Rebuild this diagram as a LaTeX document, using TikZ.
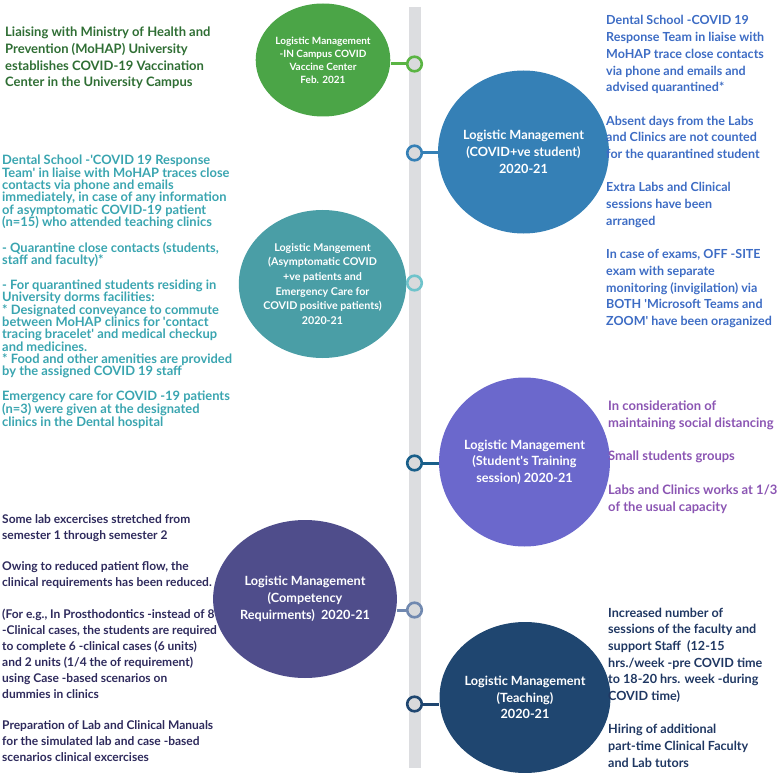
\documentclass[tikz,border=0pt]{standalone}
\usepackage{fontspec}
\setmainfont{Lato}
\usetikzlibrary{positioning,shapes.geometric}
\definecolor{bargray}{HTML}{DCDDE0}
\definecolor{ringgray}{HTML}{D9DADC}
\definecolor{vgreen}{HTML}{4BA547}
\definecolor{vgreenring}{HTML}{5AB443}
\definecolor{vgreentext}{HTML}{2F6E34}
\definecolor{cblue}{HTML}{3580B6}
\definecolor{cbluetext}{HTML}{3D6CC4}
\definecolor{ateal}{HTML}{4A9EA6}
\definecolor{atealring}{HTML}{6FC3CB}
\definecolor{atealtext}{HTML}{3AA5B0}
\definecolor{tpurple}{HTML}{6B68CC}
\definecolor{tpurplering}{HTML}{195F8A}
\definecolor{tpurpletext}{HTML}{8B55B3}
\definecolor{cslate}{HTML}{4F4D8B}
\definecolor{cslatering}{HTML}{7189B0}
\definecolor{cslatetext}{HTML}{2E2A5C}
\definecolor{hnavy}{HTML}{1F4670}
\definecolor{hnavytext}{HTML}{1F3762}
\newcommand{\sq}{\textquotesingle}
\newcommand{\gap}{\\[\baselineskip]}

\begin{document}
\begin{tikzpicture}[%
        x=1pt,y=-1pt,
        bubble/.style={%
          ellipse,
          inner sep=0pt,
          text=white,
          align=center,
          font=\bfseries\fontsize{12.7}{16.7}\selectfont
        },
        ring/.style={circle,draw,line width=2.6pt,fill=ringgray,minimum size=14.6pt,inner sep=0pt},
        link/.style={line width=3pt},
        note/.style={anchor=north west,inner sep=0pt,align=left,font=\bfseries\fontsize{13}{16.7}\selectfont}
      ]
      \useasboundingbox (0,0) rectangle (777,773);
      % timeline bar
      \draw[line width=12pt,bargray] (414.5,7) -- (414.5,768);
      % milestone bubbles
      \node[bubble,fill=vgreen,minimum width=110pt,minimum height=113pt,font=\bfseries\fontsize{10}{13}\selectfont] (gc) at (323,60)
        {Logistic Management\\-IN Campus COVID\\Vaccine Center\\Feb. 2021};
      \node[bubble,fill=cblue,minimum width=143pt,minimum height=163pt] (bc) at (523.5,152)
        {Logistic Management\\(COVID+ve student)\\2020-21};
      \node[bubble,fill=ateal,minimum width=149pt,minimum height=148pt,font=\bfseries\fontsize{10.7}{14.7}\selectfont] (tc) at (322.5,284)
        {Logistic Mangement\\(Asymptomatic COVID\\+ve patients and\\Emergency Care for\\COVID positive patients)\\2020-21};
      \node[bubble,fill=tpurple,minimum width=155pt,minimum height=169pt] (pc) at (524.5,462)
        {Logistic Management\\(Student\sq s Training\\session) 2020-21};
      \node[bubble,fill=cslate,minimum width=146pt,minimum height=158pt] (cc) at (305,599)
        {Logistic Management\\(Competency\\Requirments)\ \ 2020-21};
      \node[bubble,fill=hnavy,minimum width=144pt,minimum height=151pt] (hc) at (525,697.5)
        {Logistic Management\\(Teaching)\\2020-21};
      % rings on the bar
      \node[ring,draw=vgreenring] (r1) at (414.5,64) {};
      \node[ring,draw=cblue] (r2) at (414.5,153) {};
      \node[ring,draw=atealring] (r3) at (414.5,283) {};
      \node[ring,draw=tpurplering] (r4) at (414.5,463) {};
      \node[ring,draw=cslatering] (r5) at (414.5,610) {};
      \node[ring,draw=hnavy] (r6) at (414.5,704) {};
      \draw[link,vgreenring] (r1.west) -- (r1.west -| gc.east);
      \draw[link,cblue] (r2.east) -- (r2.east -| bc.west);
      \draw[link,atealring] (r3.west) -- (r3.west -| tc.east);
      \draw[link,tpurplering] (r4.east) -- (r4.east -| pc.west);
      \draw[link,cslatering] (r5.west) -- (r5.west -| cc.east);
      \draw[link,hnavy] (r6.east) -- (r6.east -| hc.west);
      % notes
      \node[note,text=vgreentext] (gn) at (5,27)
        {Liaising with Ministry of Health and\\Prevention (MoHAP) University\\establishes COVID-19 Vaccination\\Center in the University Campus};
      \node[note,text=cbluetext,font=\bfseries\fontsize{12.5}{16.7}\selectfont] (bn) at (606,15.5)
        {Dental School -COVID 19\\Response Team in liaise with\\MoHAP trace close contacts\\via phone and emails and\\advised quarantined*\gap
         Absent days from the Labs\\and Clinics are not counted\\for the quarantined student\gap
         Extra Labs and Clinical\\sessions have been\\arranged\gap
         In case of exams, OFF -SITE\\exam with separate\\monitoring (invigilation) via\\BOTH \sq Microsoft Teams and\\ZOOM\sq\ have been oraganized};
      \node[note,text=atealtext,font=\bfseries\fontsize{12.9}{12.35}\selectfont] (tn) at (2,155)
        {Dental School -\sq COVID 19 Response\\Team\sq\ in liaise with MoHAP traces close\\contacts via phone and emails\\immediately, in case of any information\\of asymptomatic COVID-19 patient\\(n=15) who attended teaching clinics\gap
         - Quarantine close contacts (students,\\staff and faculty)*\gap
         - For quarantined students residing in\\University dorms facilities:\\* Designated conveyance to commute\\between MoHAP clinics for \sq contact\\tracing bracelet\sq\ and medical checkup\\and medicines.\\* Food and other amenities are provided\\by the assigned COVID 19 staff\gap
         Emergency care for COVID -19 patients\\(n=3) were given at the designated\\clinics in the Dental hospital};
      \node[note,text=tpurpletext] (pn) at (608,401)
        {In consideration of\\maintaining social distancing\gap
         Small students groups\gap
         Labs and Clinics works at 1/3\\of the usual capacity};
      \node[note,text=cslatetext,font=\bfseries\fontsize{12}{15.9}\selectfont] (cn) at (2,514)
        {Some lab excercises stretched from\\semester 1 through semester 2\gap
         Owing to reduced patient flow, the\\clinical requirements has been reduced.\gap
         (For e.g., In Prosthodontics -instead of 8\\-Clinical cases, the students are required\\to complete 6 -clinical cases (6 units)\\and 2 units (1/4 the of requirement)\\using Case -based scenarios on\\dummies in clinics\gap
         Preparation of Lab and Clinical Manuals\\for the simulated lab and case -based\\scenarios clinical excercises};
      \node[note,text=hnavytext,font=\bfseries\fontsize{12.6}{16.7}\selectfont] (hn) at (608,607.5)
        {Increased number of\\sessions of the faculty and\\support Staff\ \ (12-15\\hrs./week -pre COVID time\\to 18-20 hrs. week -during\\COVID time)\gap
         Hiring of additional\\part-time Clinical Faculty\\and Lab tutors};
  \end{tikzpicture}
\end{document}
